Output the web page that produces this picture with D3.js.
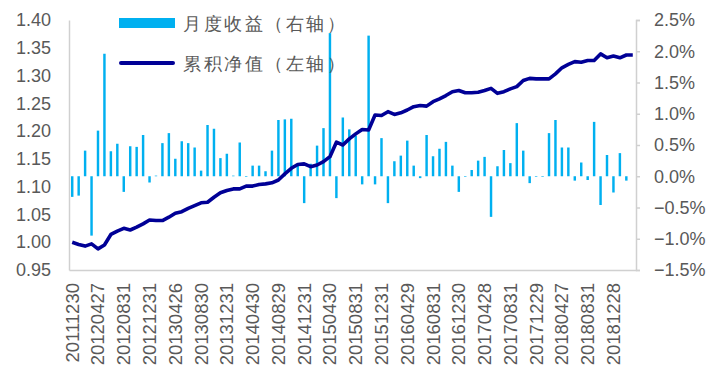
<!DOCTYPE html>
<html>
<head>
<meta charset="utf-8">
<script src="https://cdn.jsdelivr.net/npm/d3@7"></script>
<style>
  body { margin: 0; background: #fff; }
  text { font-family: "Liberation Sans", Arial, sans-serif; }
</style>
</head>
<body>
<script>
// month-end dates
const dates = [
  "20111230",
  "20120131","20120229","20120330","20120427","20120531","20120629","20120731","20120831","20120928","20121031","20121130","20121231",
  "20130131","20130228","20130329","20130426","20130531","20130628","20130731","20130830","20130930","20131031","20131129","20131231",
  "20140130","20140228","20140331","20140430","20140530","20140630","20140731","20140829","20140930","20141031","20141128","20141231",
  "20150130","20150227","20150331","20150430","20150529","20150630","20150731","20150831","20150930","20151030","20151130","20151231",
  "20160129","20160229","20160331","20160429","20160531","20160630","20160729","20160831","20160930","20161031","20161130","20161230",
  "20170126","20170228","20170331","20170428","20170531","20170630","20170731","20170831","20170929","20171031","20171130","20171229",
  "20180131","20180228","20180330","20180427","20180531","20180629","20180731","20180831","20180928","20181031","20181130","20181228",
  "20190131","20190228","20190329"
];

// monthly return, % (right axis)
const monthlyRet = [
  -0.33,-0.31,0.41,-0.95,0.73,1.96,0.40,0.52,-0.25,0.48,
  0.47,0.66,-0.10,0.01,0.53,0.69,0.28,0.56,0.53,0.46,
  0.09,0.82,0.76,0.29,0.36,0.01,0.54,-0.01,0.17,0.17,
  0.08,0.41,0.90,0.91,0.92,0.19,-0.43,0.20,0.49,0.77,
  2.29,-0.35,0.94,0.75,0.65,-0.13,2.25,-0.13,0.61,-0.43,
  0.24,0.33,0.57,0.17,-0.03,0.66,0.32,0.44,0.55,0.17,
  -0.25,0.00,0.10,0.25,0.31,-0.65,0.16,0.42,0.21,0.85,
  0.41,-0.11,0.00,0.00,0.69,0.90,0.46,0.46,-0.07,0.22,
  -0.06,0.87,-0.46,0.34,-0.26,0.37,-0.07,null
];

// cumulative NAV (left axis)
const nav = [
  1.000,0.996,0.993,0.997,0.988,0.995,1.014,1.020,1.025,1.022,
  1.027,1.033,1.040,1.039,1.039,1.045,1.052,1.055,1.061,1.066,
  1.071,1.072,1.081,1.089,1.093,1.096,1.096,1.101,1.101,1.104,
  1.105,1.107,1.112,1.123,1.133,1.140,1.141,1.136,1.139,1.145,
  1.154,1.180,1.175,1.186,1.195,1.203,1.202,1.229,1.228,1.235,
  1.230,1.233,1.238,1.244,1.246,1.245,1.253,1.258,1.264,1.271,
  1.273,1.269,1.269,1.270,1.273,1.277,1.268,1.271,1.276,1.280,
  1.291,1.295,1.294,1.294,1.294,1.303,1.314,1.320,1.325,1.324,
  1.327,1.327,1.339,1.332,1.335,1.332,1.337,1.337
];

const leftTicks = [0.95,1.00,1.05,1.10,1.15,1.20,1.25,1.30,1.35,1.40];
const rightTicks = [-1.5,-1.0,-0.5,0,0.5,1.0,1.5,2.0,2.5];
const xTickLabels = ["20111230","20120427","20120831","20121231","20130426","20130830","20131231",
  "20140430","20140829","20141231","20150430","20150831","20151231","20160429","20160831",
  "20161230","20170428","20170831","20171229","20180427","20180831","20181228"];

const seriesNames = ["月度收益（右轴）", "累积净值（左轴）"];

let canvasW = 714;
let canvasH = 387;
let plotL = 69, plotR = 636, plotT = 20, plotB = 270;

let barColor = "#00b0f0";
let lineColor = "#000096";
let textColor = "#595959";
let axisColor = "#d0d0d0";

let svg = d3.select("body").append("svg")
  .attr("width", canvasW)
  .attr("height", canvasH);

let pi = 0.62;
let x = d3.scaleBand()
  .domain(dates)
  .range([plotL, plotR])
  .paddingInner(pi)
  .paddingOuter(pi / 2);

let yL = d3.scaleLinear().domain([0.95, 1.40]).range([plotB, plotT]);
let yR = d3.scaleLinear().domain([-1.5, 2.5]).range([plotB, plotT]);

// bars
let rows = dates.map((d, i) => ({date: d, ret: monthlyRet[i], nav: nav[i]}));

svg.selectAll(".bar")
  .data(rows.filter(r => r.ret !== null))
  .enter()
  .append("rect")
    .attr("class", "bar")
    .attr("fill", barColor)
    .attr("x", d => x(d.date))
    .attr("width", x.bandwidth())
    .attr("y", d => Math.min(yR(0), yR(d.ret)))
    .attr("height", d => Math.max(0.6, Math.abs(yR(d.ret) - yR(0))));

// line
let line = d3.line()
  .x(d => x(d.date) + x.bandwidth() / 2)
  .y(d => yL(d.nav));

svg.append("path")
  .datum(rows)
  .attr("d", line)
  .attr("fill", "none")
  .attr("stroke", lineColor)
  .attr("stroke-width", 3.6)
  .attr("stroke-linejoin", "round");

// left axis
let axL = svg.append("g")
  .attr("transform", "translate(" + plotL + ",0)")
  .call(d3.axisLeft(yL).tickValues(leftTicks).tickSize(0).tickPadding(18).tickFormat(d3.format(".2f")));
axL.select(".domain").attr("stroke", axisColor).attr("stroke-width", 1.5);
axL.selectAll("text").attr("fill", textColor).attr("font-size", "18px")
  .attr("font-family", "Liberation Sans, Arial, sans-serif");

// right axis
let axR = svg.append("g")
  .attr("transform", "translate(" + plotR + ",0)")
  .call(d3.axisRight(yR).tickValues(rightTicks).tickSizeOuter(0).tickSize(4).tickPadding(14)
    .tickFormat(d => d3.format(".1f")(d) + "%"));
axR.select(".domain").attr("stroke", axisColor).attr("stroke-width", 1.5);
axR.selectAll("line").attr("stroke", axisColor).attr("stroke-width", 1.5);
axR.selectAll("text").attr("fill", textColor).attr("font-size", "18px")
  .attr("font-family", "Liberation Sans, Arial, sans-serif");

// bottom axis
let axB = svg.append("g")
  .attr("transform", "translate(0," + plotB + ")")
  .call(d3.axisBottom(x).tickValues(xTickLabels).tickSize(0).tickPadding(0));
axB.select(".domain").attr("stroke", axisColor).attr("stroke-width", 1.5);
axB.selectAll("text")
  .attr("fill", textColor)
  .attr("font-size", "18.5px")
  .attr("font-family", "Liberation Sans, Arial, sans-serif")
  .attr("text-anchor", "end")
  .attr("dy", "0.35em")
  .attr("transform", "translate(0,13) rotate(-90)")
  .attr("x", 0).attr("y", 0);

// legend
svg.append("rect")
  .attr("x", 119).attr("y", 18).attr("width", 56).attr("height", 10)
  .attr("fill", barColor);
svg.append("line")
  .attr("x1", 121).attr("x2", 173).attr("y1", 63).attr("y2", 63)
  .attr("stroke", lineColor).attr("stroke-width", 4).attr("stroke-linecap", "round");

svg.selectAll(".legtext")
  .data(seriesNames)
  .enter()
  .append("text")
    .attr("x", 183)
    .attr("y", (d, i) => i == 0 ? 24 : 64)
    .attr("dy", "0.35em")
    .attr("font-family", "Noto Sans CJK SC, sans-serif")
    .attr("font-size", "18px")
    .attr("letter-spacing", "2.5px")
    .attr("fill", textColor)
    .text(d => d);
</script>
</body>
</html>
